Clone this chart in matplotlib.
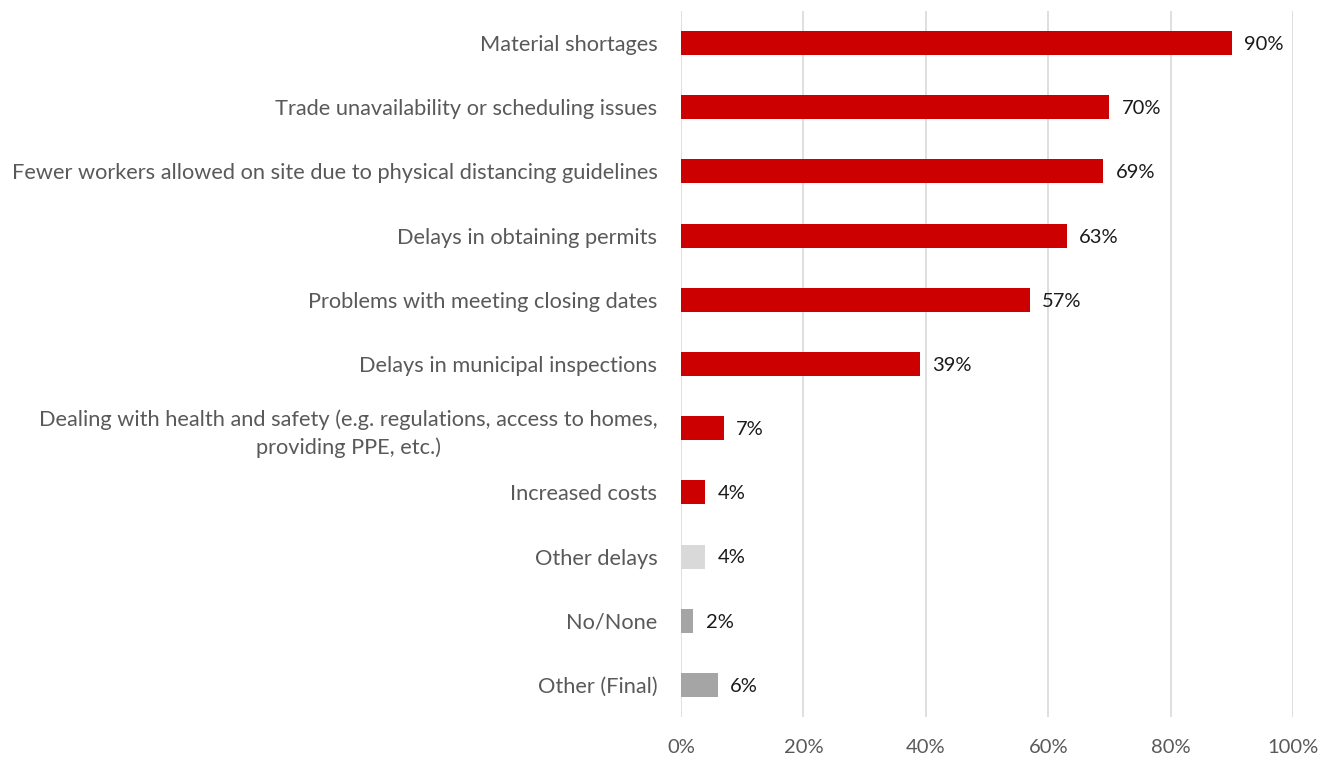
import matplotlib
matplotlib.use("Agg")
import matplotlib.pyplot as plt
from matplotlib.ticker import FuncFormatter

categories = [
    "Material shortages",
    "Trade unavailability or scheduling issues",
    "Fewer workers allowed on site due to physical distancing guidelines",
    "Delays in obtaining permits",
    "Problems with meeting closing dates",
    "Delays in municipal inspections",
    "Dealing with health and safety (e.g. regulations, access to homes,\nproviding PPE, etc.)",
    "Increased costs",
    "Other delays",
    "No/None",
    "Other (Final)",
]
values = [90, 70, 69, 63, 57, 39, 7, 4, 4, 2, 6]
bar_colors = ["#CC0000"] * 8 + ["#D9D9D9", "#A5A5A5", "#A5A5A5"]
xticks = [0, 20, 40, 60, 80, 100]

plt.rcParams["font.family"] = ["Lato", "DejaVu Sans"]

fig = plt.figure(figsize=(13.36, 7.58), dpi=100)
ax = fig.add_axes([681 / 1336, 41 / 758, 612 / 1336, 706 / 758])

y = list(range(len(categories)))
ax.barh(y, values, height=0.375, color=bar_colors, zorder=3)

for yi, v in zip(y, values):
    ax.annotate(f"{v}%", xy=(v, yi), xytext=(9, -1), textcoords="offset points",
                va="center", ha="left", fontsize=14.5, color="#1A1A1A")

ax.set_xlim(0, 100)
ax.set_ylim(len(categories) - 0.5, -0.5)
ax.set_xticks(xticks)
ax.xaxis.set_major_formatter(FuncFormatter(lambda v, p: f"{v:.0f}%"))
ax.set_yticks(y)
ax.set_yticklabels(categories, fontsize=15.7, color="#595959", ha="right",
                   multialignment="center", linespacing=1.45)
ax.tick_params(axis="y", length=0, pad=17)
ax.tick_params(axis="x", length=0, pad=16, labelsize=14.5, labelcolor="#595959")
ax.grid(axis="x", color="#D9D9D9", linewidth=1.2, zorder=0)
for s in ax.spines.values():
    s.set_visible(False)

fig.savefig("out.png", dpi=100, facecolor="white")
